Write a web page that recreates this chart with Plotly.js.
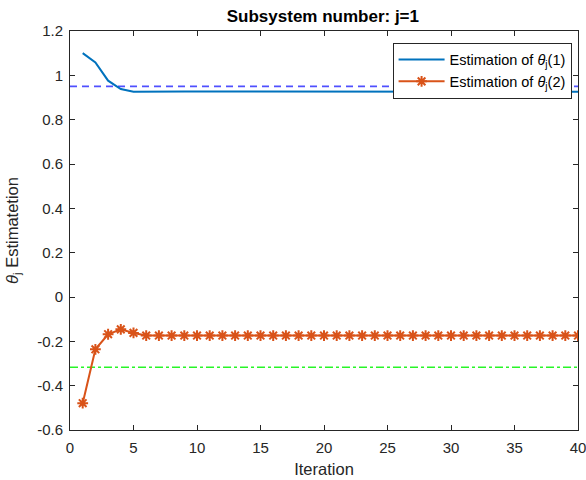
<!DOCTYPE html>
<html>
<head>
<meta charset="utf-8">
<script src="https://cdn.plot.ly/plotly-3.0.1.min.js"></script>
<style>html,body{margin:0;padding:0;background:#fff;}#chart{width:586px;height:480px;}</style>
</head>
<body>
<div id="chart"></div>
<script>
const iterations = Array.from({length: 40}, (_, i) => i + 1);
const theta1 = [1.100, 1.058, 0.976, 0.938, 0.926, 0.927, 0.927, 0.927, 0.927, 0.927,
                0.927, 0.927, 0.927, 0.927, 0.927, 0.927, 0.927, 0.927, 0.927, 0.927,
                0.927, 0.927, 0.927, 0.927, 0.927, 0.927, 0.927, 0.927, 0.927, 0.927,
                0.927, 0.927, 0.927, 0.927, 0.927, 0.927, 0.927, 0.927, 0.927, 0.926];
const theta2 = [-0.479, -0.236, -0.168, -0.146, -0.162, -0.174, -0.174, -0.174, -0.174, -0.174,
                -0.174, -0.174, -0.174, -0.174, -0.174, -0.174, -0.174, -0.174, -0.174, -0.174,
                -0.174, -0.174, -0.174, -0.174, -0.174, -0.174, -0.174, -0.174, -0.174, -0.174,
                -0.174, -0.174, -0.174, -0.174, -0.174, -0.174, -0.174, -0.174, -0.174, -0.174];
const trueTheta1 = 0.95;
const trueTheta2 = -0.317;
const xRange = [0, 40];
const yRange = [-0.6, 1.2];
const xTicks = [0, 5, 10, 15, 20, 25, 30, 35, 40];
const yTicks = [-0.6, -0.4, -0.2, 0, 0.2, 0.4, 0.6, 0.8, 1, 1.2];
const yTickText = ["-0.6", "-0.4", "-0.2", "0", "0.2", "0.4", "0.6", "0.8", "1", "1.2"];

const font = "Liberation Sans, Arial, Helvetica, sans-serif";
const axisColor = "#262626";

const traces = [
  {x: xRange, y: [trueTheta1, trueTheta1], mode: "lines", showlegend: false,
   line: {color: "rgb(80,80,255)", width: 1.6, dash: "7px,5px"}, hoverinfo: "skip"},
  {x: xRange, y: [trueTheta2, trueTheta2], mode: "lines", showlegend: false,
   line: {color: "rgb(40,245,40)", width: 1.6, dash: "8px,3px,3px,3px"}, hoverinfo: "skip"},
  {x: iterations, y: theta1, mode: "lines", name: "Estimation of <i>θ</i><sub>j</sub>(1)",
   line: {color: "#0072BD", width: 2}},
  {x: iterations, y: theta2, mode: "lines+markers", name: "Estimation of <i>θ</i><sub>j</sub>(2)",
   line: {color: "#D95319", width: 2},
   marker: {symbol: "asterisk-open", size: 9, color: "#D95319", line: {color: "#D95319", width: 2}}}
];

const layout = {
  width: 586, height: 480,
  margin: {l: 70, r: 8, t: 31, b: 50},
  paper_bgcolor: "#fff", plot_bgcolor: "#fff",
  font: {family: font, size: 15, color: axisColor},
  title: {text: "<b>Subsystem number: j=1</b>", x: 0.551, xanchor: "center", y: 0.967, yanchor: "middle",
          font: {family: font, size: 17, color: "#000"}},
  xaxis: {range: xRange, tickvals: xTicks, ticks: "inside", ticklen: 5, tickcolor: axisColor,
          showline: true, linecolor: axisColor, linewidth: 1, mirror: "ticks", showgrid: false, zeroline: false,
          tickfont: {size: 15, color: axisColor}, ticklabelstandoff: 4, ticklabeloverflow: "allow",
          title: {text: "Iteration", font: {size: 16.5, color: axisColor}, standoff: 8}},
  yaxis: {range: yRange, tickvals: yTicks, ticktext: yTickText, ticks: "inside", ticklen: 5, tickcolor: axisColor,
          showline: true, linecolor: axisColor, linewidth: 1, mirror: "ticks", showgrid: false, zeroline: false,
          tickfont: {size: 15, color: axisColor}, ticklabelstandoff: 3, ticklabeloverflow: "allow",
          title: {text: "<i>θ</i><sub>j</sub> Estimatetion", font: {size: 16.5, color: axisColor}, standoff: 14}},
  legend: {x: 0.635, y: 0.971, xanchor: "left", yanchor: "top", bgcolor: "#fff",
           bordercolor: axisColor, borderwidth: 1, itemwidth: 46, tracegroupgap: 0,
           font: {size: 14.5, color: "#000"}},
  showlegend: true
};

Plotly.newPlot("chart", traces, layout, {staticPlot: true, displayModeBar: false});
</script>
</body>
</html>
